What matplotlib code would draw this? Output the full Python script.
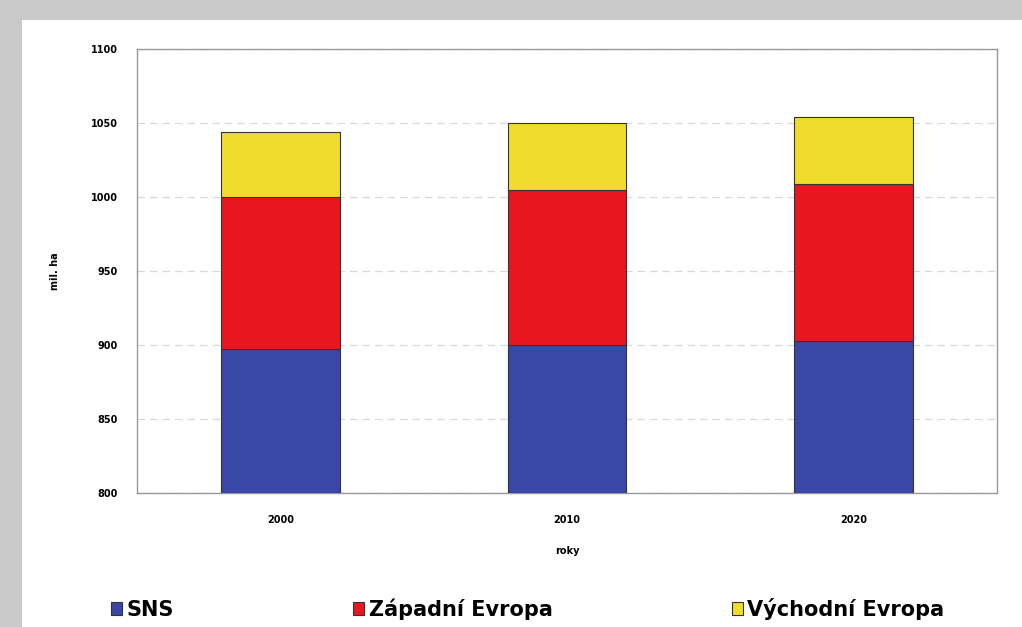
import matplotlib
matplotlib.use("Agg")
import matplotlib.pyplot as plt
from matplotlib.patches import Rectangle
import numpy as np

# data (mil. ha), stacked on axis starting at 800
years = ["2000", "2010", "2020"]
sns_vals = [897, 900, 903]
zapad = [103, 105, 106]
vychod = [44, 45, 45]
series = ["SNS", "Západní Evropa", "Východní Evropa"]
colors = ["#3a47a8", "#e8161e", "#f0dc2c"]

fig = plt.figure(figsize=(10.22, 6.27), dpi=100)
fig.patch.set_facecolor("#c9c9c9")
fig.add_artist(Rectangle((22 / 1022, 0), 1, 1 - 20 / 627, transform=fig.transFigure,
                         facecolor="white", edgecolor="none", zorder=0))

ax = fig.add_axes([137 / 1022, 1 - 493 / 627, 860 / 1022, 444 / 627])
ax.set_facecolor("white")

x = np.arange(len(years))
w = 0.415
bottom = np.zeros(len(years))
for vals, lab, c in zip([sns_vals, zapad, vychod], series, colors):
    ax.bar(x, vals, w, bottom=bottom, color=c, edgecolor="#333333", linewidth=0.8,
           label=lab, zorder=3)
    bottom += np.array(vals)

ax.set_ylim(800, 1100)
ax.set_xlim(-0.5, 2.5)
ax.set_yticks(np.arange(800, 1101, 50))
ax.set_xticks(x)
ax.set_xticklabels(years)
ax.tick_params(axis="y", length=0, labelsize=7, pad=14)
ax.tick_params(axis="x", length=0, labelsize=7, pad=16)
for t in ax.get_xticklabels() + ax.get_yticklabels():
    t.set_fontweight("bold")
ax.yaxis.grid(True, ls=(0, (6, 4)), color="#d8d8d8", lw=0.9, zorder=0)
for s in ax.spines.values():
    s.set_color("#999999")
    s.set_linewidth(1)

ax.set_xlabel("roky", fontsize=7, fontweight="bold", labelpad=15)
ax.set_ylabel("mil. ha", fontsize=7, fontweight="bold", labelpad=22)

fig.legend(loc="lower left", bbox_to_anchor=(92 / 1022, -0.018), ncol=3, frameon=False,
           prop={"weight": "bold", "size": 15}, handlelength=0.55,
           handleheight=0.6, handletextpad=0.2, columnspacing=8.6)

fig.savefig("out.png", dpi=100, facecolor=fig.get_facecolor())
